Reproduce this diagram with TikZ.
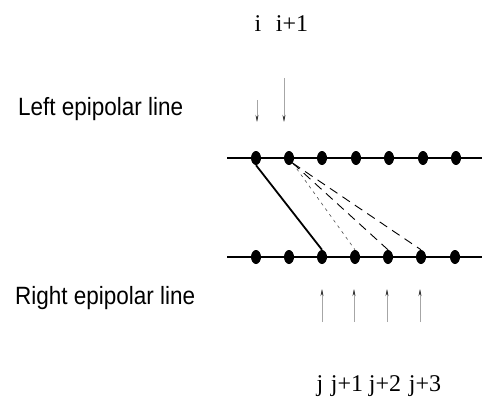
\documentclass[tikz,border=0pt]{standalone}
\usepackage{fontspec}
\setmainfont{Liberation Serif}
\newfontfamily\labelsans{Liberation Sans}
\usetikzlibrary{shapes.geometric,arrows.meta}
\begin{document}
\begin{tikzpicture}[x=1pt,y=-1pt,
  pt/.style={ellipse,fill=black,inner sep=0pt,minimum width=10pt,minimum height=14pt},
  epi/.style={line width=1.1pt},
  match/.style={line width=1.8pt},
  cand/.style={line width=0.9pt,dash pattern=on 9pt off 6pt},
  candfaint/.style={line width=0.6pt,dash pattern=on 3pt off 4pt,black!70},
  idx/.style={font=\fontsize{24}{28}\selectfont,inner sep=0pt},
  side/.style={font=\labelsans\fontsize{25}{29}\selectfont,inner sep=0pt,anchor=west,xscale=0.9},
  pointer/.style={line width=0.5pt,black!35,-{Stealth[length=7pt,width=3pt,black!80]}}
]
\useasboundingbox (0,0) rectangle (485,412);
% epipolar lines
\coordinate (Ls) at (227,158); \coordinate (Le) at (482,158);
\coordinate (Rs) at (227,257); \coordinate (Re) at (482,257);
\draw[epi] (Ls) -- (Le);
\draw[epi] (Rs) -- (Re);
% left points
\foreach \n/\x in {1/256,2/289,3/322,4/356,5/389,6/423,7/456}
  \node[pt] (l\n) at (\x,158) {};
% right points
\foreach \n/\x in {1/256,2/289,3/322,4/355,5/388,6/421,7/455}
  \node[pt] (r\n) at (\x,257) {};
% correspondences
\draw[match] (l1.south) -- (r3.north);
\draw[candfaint] (l2.south east) -- (r4.north);
\draw[cand] (l2.south east) -- (r5.north);
\draw[cand] (l2.south east) -- (r6.north);
% labels
\node[side] (leftlab) at (18,109) {Left epipolar line};
\node[side] (rightlab) at (15,298) {Right epipolar line};
\node[idx] (ii) at (258,24) {i};
\node[idx] (ii1) at (292,24) {i+1};
\node[idx] (jj) at (320,386) {j};
\node[idx] (jj1) at (347,386) {j+1};
\node[idx] (jj2) at (385,386) {j+2};
\node[idx] (jj3) at (425,386) {j+3};
% pointer arrows
\coordinate (ai) at (257,100); \coordinate (ai1) at (284,78);
\draw[pointer] (ai) -- ++(0,22) coordinate (ti);
\draw[pointer] (ai1) -- ++(0,44) coordinate (ti1);
\foreach \n/\x in {0/322,1/354,2/387,3/420}{
  \coordinate (b\n) at (\x,322);
  \draw[pointer] (b\n) -- ++(0,-33);
}
\end{tikzpicture}
\end{document}
